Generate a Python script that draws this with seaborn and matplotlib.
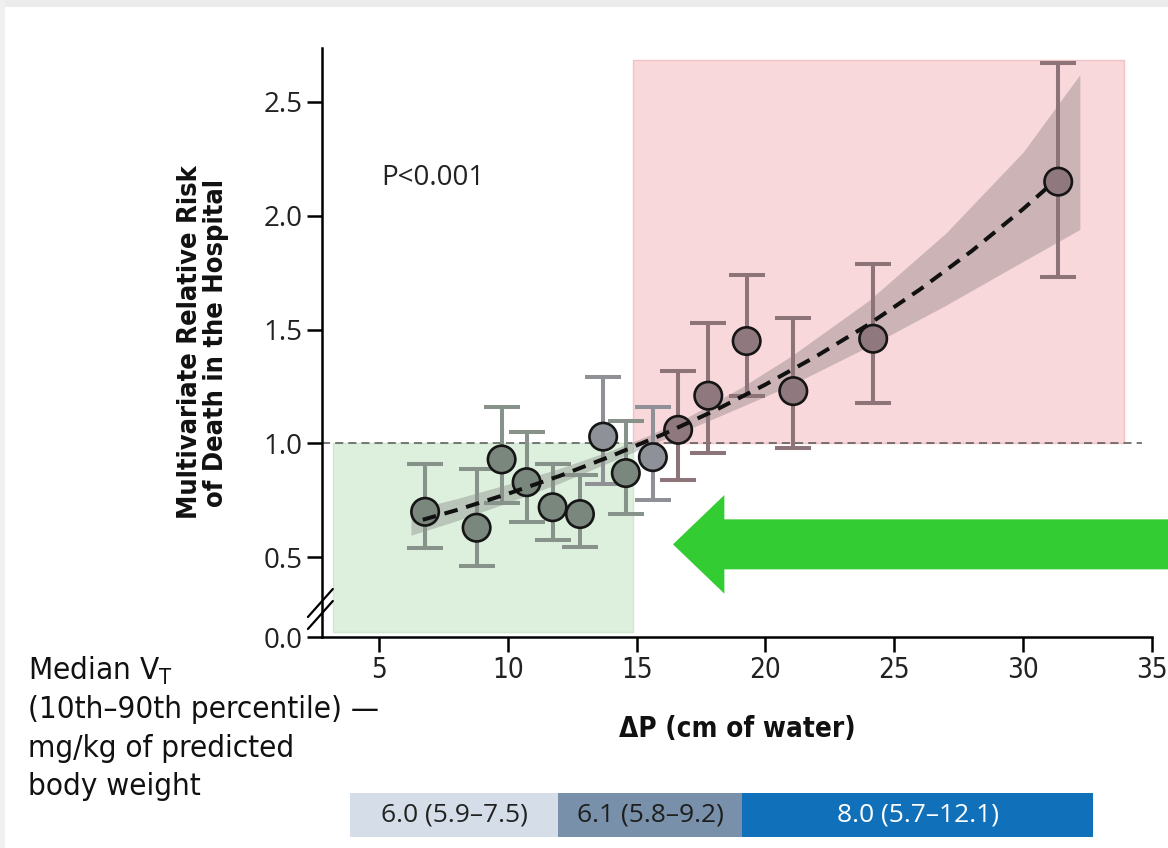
import matplotlib
matplotlib.use("Agg")
import matplotlib.pyplot as plt
from matplotlib.patches import Rectangle
import seaborn as sns
import pandas as pd

# points
delta_p = [6.79, 8.79, 9.76, 10.73, 11.74, 12.80, 13.70, 14.58, 15.63, 16.61, 17.78, 19.27, 21.08, 24.18, 31.36]
rel_risk = [0.70, 0.63, 0.93, 0.83, 0.72, 0.69, 1.03, 0.87, 0.94, 1.06, 1.21, 1.45, 1.23, 1.46, 2.15]
ci_low = [0.54, 0.46, 0.74, 0.655, 0.575, 0.545, 0.82, 0.69, 0.75, 0.84, 0.96, 1.21, 0.98, 1.18, 1.73]
ci_high = [0.91, 0.89, 1.16, 1.05, 0.91, 0.86, 1.29, 1.10, 1.16, 1.32, 1.53, 1.74, 1.55, 1.79, 2.67]
zone = ["low"] * 6 + ["mid", "low", "mid"] + ["high"] * 6

# fitted curve and its band
fit_x = [6.7, 8, 10, 12, 14, 16, 18, 20, 22, 24, 26, 28, 30, 31.1]
fit_y = [0.665, 0.707, 0.779, 0.857, 0.944, 1.039, 1.143, 1.259, 1.385, 1.523, 1.677, 1.845, 2.03, 2.14]
band_x = [6.24, 8, 10, 12, 14, 15.5, 17, 19, 21, 24, 27, 30, 32.2]
band_lo = [0.597, 0.660, 0.740, 0.825, 0.920, 0.992, 1.062, 1.158, 1.257, 1.426, 1.607, 1.80, 1.94]
band_hi = [0.708, 0.757, 0.821, 0.890, 0.969, 1.037, 1.117, 1.242, 1.384, 1.627, 1.924, 2.28, 2.62]

x_ticks = [5, 10, 15, 20, 25, 30, 35]
y_ticks = [0.15, 0.5, 1.0, 1.5, 2.0, 2.5]
y_tick_labels = ["0.0", "0.5", "1.0", "1.5", "2.0", "2.5"]

# tidal volume strip under the axis
vt_edges = [3.87, 11.95, 19.09, 32.71]
vt_labels = ["6.0 (5.9–7.5)", "6.1 (5.8–9.2)", "8.0 (5.7–12.1)"]
vt_colors = ["#d5dee8", "#7890aa", "#1070b9"]
vt_text = ["#222222", "#1e1e1e", "white"]
vt_caption = ["Median V$\\mathregular{_T}$", "(10th–90th percentile) —", "mg/kg of predicted", "body weight"]

MARKER_COLORS = {"low": "#7a877d", "mid": "#8e9198", "high": "#8f787e"}
ERR_COLORS = {"low": "#86928a", "mid": "#8f9196", "high": "#8c7479"}

sns.set_theme(style="ticks")
NARROW = ["DejaVu Sans"]
PLAIN = ["Open Sans", "DejaVu Sans"]
plt.rcParams["font.family"] = NARROW
plt.rcParams["font.stretch"] = "normal"

df = pd.DataFrame({"dp": delta_p, "rr": rel_risk, "lo": ci_low, "hi": ci_high, "zone": zone})

fig = plt.figure(figsize=(11.68, 8.48), dpi=100)
fig.patch.set_facecolor("white")
ax = fig.add_axes([0.2757, 0.2488, 0.7106, 0.6946])

# screenshot-like grey edge
fig.add_artist(Rectangle((0, 1 - 7 / 848), 1, 7 / 848, transform=fig.transFigure, color="#ececec", lw=0))
fig.add_artist(Rectangle((0, 0), 5 / 1168, 1, transform=fig.transFigure, color="#f0f0f0", lw=0))

# shaded zones
ax.add_patch(Rectangle((3.2, 0.17), 14.86 - 3.2, 1.0 - 0.17, facecolor="#ddefdd", edgecolor="#cfe7cf", lw=1, zorder=0))
ax.add_patch(Rectangle((14.86, 1.0), 33.9 - 14.86, 2.684 - 1.0, facecolor="#f8d8da", edgecolor="#f2c2c6", lw=1, zorder=0))

ax.hlines(1.0, 2.79, 34.6, colors="#555555", lw=1.1, linestyles=(0, (5.3, 3.3)), zorder=1)

ax.fill_between(band_x, band_lo, band_hi, color="#5a5a5a", alpha=0.28, lw=0, zorder=1)

for z, sub in df.groupby("zone"):
    ax.errorbar(sub.dp, sub.rr, yerr=[sub.rr - sub.lo, sub.hi - sub.rr], fmt="none",
                ecolor=ERR_COLORS[z], elinewidth=2.9, capsize=13.3, capthick=2.9, zorder=2)

sns.scatterplot(data=df, x="dp", y="rr", hue="zone", palette=MARKER_COLORS, s=390,
                edgecolor="#151515", linewidth=1.9, legend=False, zorder=3, ax=ax)

sns.lineplot(x=fit_x, y=fit_y, ax=ax, color="#111111", lw=2.9, linestyle=(0, (3.4, 2.2)), zorder=4)

ax.set_xlim(2.79, 35)
ax.set_ylim(0.15, 2.737)
ax.set_xticks(x_ticks)
ax.set_xticklabels([str(t) for t in x_ticks], fontsize=20, family=NARROW, fontstretch="condensed",
                   color="#222222")
ax.set_yticks(y_ticks)
ax.set_yticklabels(y_tick_labels, fontsize=20, family=PLAIN, fontstretch="normal", color="#222222")
ax.tick_params(axis="both", length=11, width=1.8, color="black", pad=3)
ax.spines[["top", "right"]].set_visible(False)
ax.spines[["left", "bottom"]].set_linewidth(1.8)
ax.spines[["left", "bottom"]].set_color("black")

# axis break marks
for y0 in (0.034, 0.0136):
    ax.plot([-0.017, 0.013], [y0, y0 + 0.0475], transform=ax.transAxes, color="black", lw=1.6, clip_on=False)

ax.set_ylabel("Multivariate Relative Risk\nof Death in the Hospital", fontsize=19.5, fontweight="bold",
              family=NARROW, fontstretch="condensed", linespacing=1.0, color="#111111")
ax.yaxis.set_label_coords(-0.112, 0.5)
ax.set_xlabel("ΔP (cm of water)", fontsize=20, fontweight="bold", family=NARROW,
              fontstretch="condensed", color="#111111")
ax.xaxis.set_label_coords(0.5, -0.132)

ax.text(5.08, 2.167, "P<0.001", ha="left", va="center", fontsize=20, family=PLAIN,
        fontstretch="normal", color="#222222")

ax.annotate("", xy=(16.41, 0.557), xytext=(35.7, 0.557), annotation_clip=False,
            arrowprops=dict(arrowstyle="simple,head_length=3.7,head_width=7.1,tail_width=3.6",
                            mutation_scale=10, color="#33cc33", lw=0, shrinkA=0, shrinkB=0))

for x0, x1, lab, fc, tc in zip(vt_edges[:-1], vt_edges[1:], vt_labels, vt_colors, vt_text):
    ax.add_patch(Rectangle((x0, -0.3396), x1 - x0, 0.0747, transform=ax.get_xaxis_transform(),
                           facecolor=fc, lw=0, clip_on=False))
    ax.text((x0 + x1) / 2, -0.302, lab, transform=ax.get_xaxis_transform(), ha="center", va="center",
            fontsize=19, family=PLAIN, fontstretch="normal", color=tc)

# caption of the strip, one line each
for line, yb in zip(vt_caption, [0.1981, 0.1533, 0.1073, 0.0625]):
    fig.text(0.024, yb, line, ha="left", va="baseline", fontsize=22.5, family=NARROW,
             fontstretch="condensed", color="#111111")

fig.savefig("out.png", dpi=100)
